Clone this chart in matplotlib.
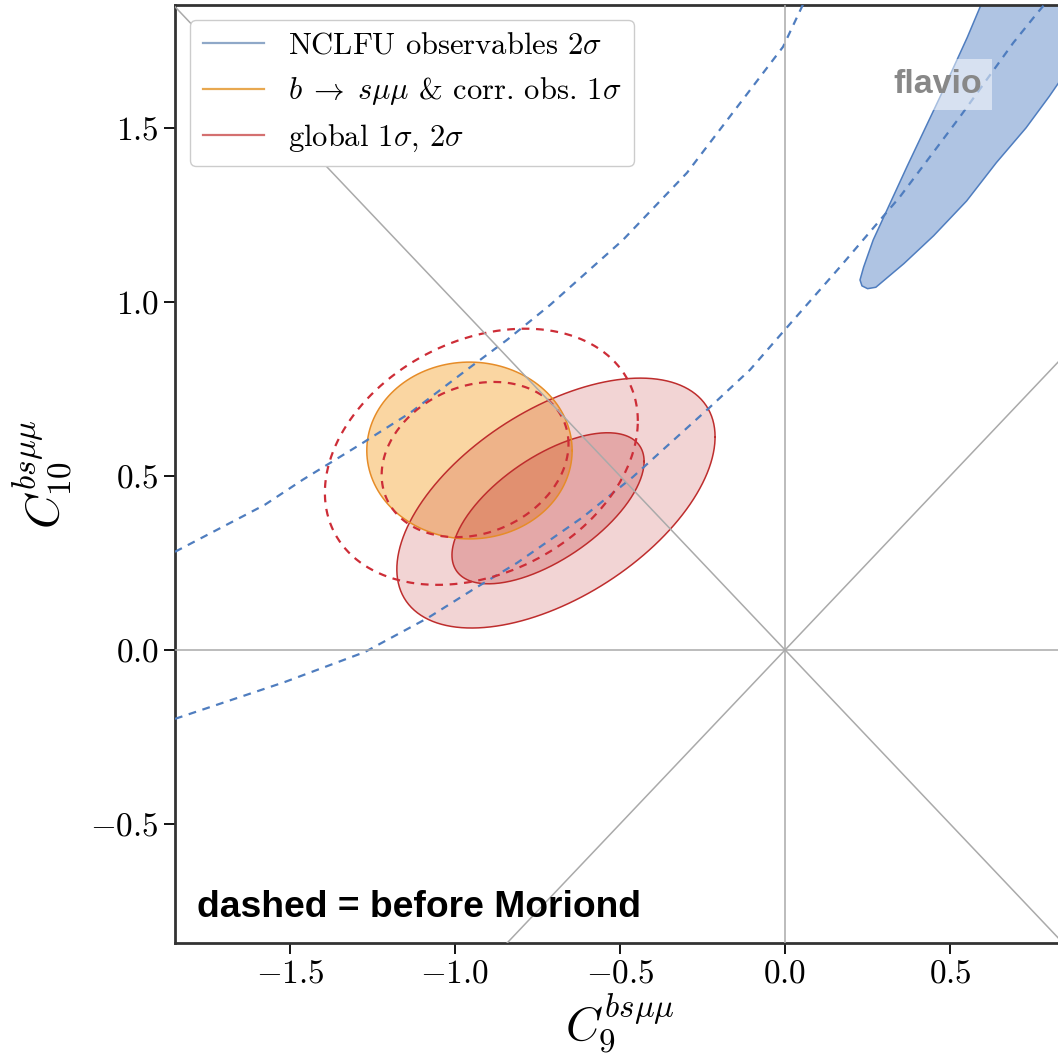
import matplotlib
matplotlib.use("Agg")
import matplotlib.pyplot as plt
import numpy as np
from matplotlib.lines import Line2D

plt.rcParams['font.family'] = 'serif'
plt.rcParams['font.serif'] = ['cmr10', 'DejaVu Serif']
plt.rcParams['mathtext.fontset'] = 'cm'
plt.rcParams['axes.formatter.use_mathtext'] = True

# ellipses: centre x, centre y, half-width x, half-height y, correlation
global_1s = (-0.718, 0.407, 0.291, 0.217, 0.62)
global_2s = (-0.694, 0.422, 0.482, 0.359, 0.53)
bsmumu_1s = (-0.956, 0.573, 0.311, 0.254, 0.0)
old_global_1s = (-0.939, 0.547, 0.283, 0.223, 0.20)
old_global_2s = (-0.920, 0.555, 0.474, 0.368, 0.28)

# NCLFU 2 sigma region (current)
nclfu_x = [0.66, 0.60, 0.552, 0.47, 0.37, 0.267, 0.238, 0.227, 0.233, 0.250, 0.275,
           0.30, 0.36, 0.45, 0.55, 0.64, 0.73, 0.80, 0.88, 0.95, 1.0]
nclfu_y = [1.95, 1.868, 1.76, 1.59, 1.39, 1.178, 1.10, 1.063, 1.046, 1.038, 1.042,
           1.062, 1.11, 1.19, 1.29, 1.40, 1.50, 1.59, 1.70, 1.80, 1.95]

# NCLFU 2 sigma before Moriond (two dashed branches)
old_upper_x = [-1.848, -1.576, -1.461, -1.279, -1.136, -0.964, -0.842, -0.712,
               -0.491, -0.297, -0.006, 0.061]
old_upper_y = [0.282, 0.417, 0.489, 0.595, 0.681, 0.805, 0.891, 0.991,
               1.178, 1.371, 1.733, 1.868]
old_lower_x = [-1.848, -1.515, -1.273, -1.082, -0.948, -0.812, -0.612, -0.461,
               -0.227, -0.106, -0.006, 0.167, 0.348, 0.530, 0.691, 0.764, 0.80]
old_lower_y = [-0.198, -0.092, -0.006, 0.092, 0.172, 0.25, 0.382, 0.497,
               0.698, 0.805, 0.914, 1.101, 1.302, 1.532, 1.744, 1.830, 1.87]

legend_labels = [r'NCLFU observables $2\sigma$',
                 r'$b\;\to\;s\mu\mu$ & corr. obs. $1\sigma$',
                 r'global $1\sigma$, $2\sigma$']

c_blue = '#4f7dbf'
c_orange = '#e68c28'
c_red = '#be2d2d'


def ellipse(p, n=300):
    cx, cy, sx, sy, rho = p
    t = np.linspace(0, 2 * np.pi, n)
    x = cx + sx * np.cos(t)
    y = cy + sy * (rho * np.cos(t) + np.sqrt(1 - rho ** 2) * np.sin(t))
    return x, y


fig = plt.figure(figsize=(10.58, 10.58), dpi=100)
ax = fig.add_axes([175 / 1058, 115 / 1058, 890 / 1058, 938 / 1058])
ax.set_xlim(-1.848, 0.848)
ax.set_ylim(-0.842, 1.853)

# guide lines through the origin
gkw = dict(color='#aaaaaa', lw=1.1, zorder=5)
ax.axhline(0, **gkw)
ax.axvline(0, **gkw)
ax.axline((0, 0), slope=1, **gkw)
ax.axline((0, 0), slope=-1, **gkw)

# filled regions
ax.fill(nclfu_x, nclfu_y, color=(70 / 255, 120 / 255, 190 / 255), alpha=0.43, lw=0, zorder=1)
ax.plot(nclfu_x, nclfu_y, color=c_blue, lw=1.1, zorder=2)

x2, y2 = ellipse(global_2s)
x1, y1 = ellipse(global_1s)
xo, yo = ellipse(bsmumu_1s)
ax.fill(xo, yo, color=(245 / 255, 165 / 255, 50 / 255), alpha=0.45, lw=0, zorder=1)
ax.fill(x2, y2, color=(190 / 255, 40 / 255, 40 / 255), alpha=0.2, lw=0, zorder=1)
ax.fill(x1, y1, color=(190 / 255, 40 / 255, 40 / 255), alpha=0.25, lw=0, zorder=1)
ax.plot(x2, y2, color=c_red, lw=1.1, zorder=3)
ax.plot(x1, y1, color=c_red, lw=1.1, zorder=3)
ax.plot(xo, yo, color=c_orange, lw=1.1, zorder=3)

# before Moriond
dkw = dict(lw=1.6, ls=(0, (3.5, 3)), zorder=4)
ax.plot(old_upper_x, old_upper_y, color=c_blue, **dkw)
ax.plot(old_lower_x, old_lower_y, color=c_blue, **dkw)
for p in (old_global_1s, old_global_2s):
    xd, yd = ellipse(p)
    ax.plot(xd, yd, color='#cd2d37', **dkw)

ax.set_xticks([-1.5, -1.0, -0.5, 0.0, 0.5])
ax.set_yticks([-0.5, 0.0, 0.5, 1.0, 1.5])
ax.tick_params(labelsize=24, length=8, width=1.3, direction='out')
for s in ax.spines.values():
    s.set_linewidth(2.0)
    s.set_color('#333333')
ax.set_xlabel(r'$C_9^{bs\mu\mu}$', fontsize=34, labelpad=2)
ax.set_ylabel(r'$C_{10}^{bs\mu\mu}$', fontsize=34, labelpad=12)

handles = [Line2D([], [], color=c, lw=1.6) for c in ('#8fa8c8', '#e8a850', '#d47070')]
leg = ax.legend(handles, legend_labels, loc='upper left', fontsize=22,
                handlelength=2.0, borderaxespad=0.5, framealpha=1,
                edgecolor='#cccccc', labelspacing=0.5)
leg.set_zorder(10)

ax.text(0.857, 0.915, 'flavio', transform=ax.transAxes, ha='center', va='center',
        family='Liberation Sans', weight='bold', fontsize=24.5, color='#888888',
        bbox=dict(facecolor='white', alpha=0.5, edgecolor='none', pad=7), zorder=9)
ax.text(0.025, 0.028, 'dashed = before Moriond', transform=ax.transAxes,
        ha='left', va='baseline', family='Liberation Sans', weight='bold',
        fontsize=26.8, color='black', zorder=9)

fig.savefig('out.png', dpi=100)
